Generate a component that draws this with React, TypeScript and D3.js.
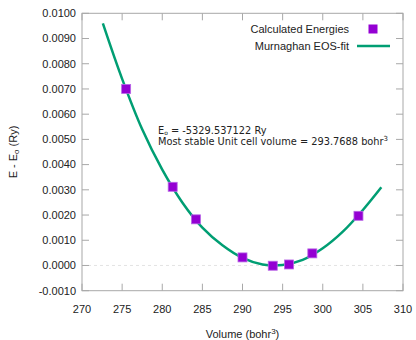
import React from 'react';
import * as d3 from 'd3';

// calculated energies, E - E0 in Ry
const volumes = [275.5, 281.3, 284.2, 290.0, 293.77, 295.8, 298.7, 304.45];
const energies = [0.0070, 0.00312, 0.00183, 0.00032, -0.00001, 0.00004, 0.00048, 0.00197];

// fitted curve
const fitVolumes = [272.6, 275, 277.5, 280, 282.5, 285, 287.5, 290, 292.5, 295, 297.5, 300, 302.5, 305, 307.3];
const fitEnergies = [0.0096, 0.0074, 0.0054, 0.0038, 0.0025, 0.0015, 0.0008, 0.0003, 0.00004, 0.00002, 0.00022, 0.00068, 0.00134, 0.0022, 0.0031];

const xTicks = [270, 275, 280, 285, 290, 295, 300, 305, 310];
const yTicks = [-0.001, 0, 0.001, 0.002, 0.003, 0.004, 0.005, 0.006, 0.007, 0.008, 0.009, 0.01];

const W = 416;
const H = 340;
const left = 82, right = 403, top = 13.3, bottom = 290.7;
const font = '"Liberation Sans", Arial, sans-serif';

export default function App() {
  const x = d3.scaleLinear().domain([270, 310]).range([left, right]);
  const y = d3.scaleLinear().domain([-0.001, 0.01]).range([bottom, top]);

  const line = d3
    .line<number>()
    .x((d, i) => x(fitVolumes[i]))
    .y((d) => y(d))
    .curve(d3.curveCatmullRom);

  const axisColor = '#a8a8a8';
  const tk = 7;

  return (
    <svg
      width={W}
      height={H}
      style={{ position: 'absolute', left: 0, top: 0, background: '#fff' }}
      fontFamily={font}
    >
      {/* zero line */}
      <line x1={left} x2={right} y1={y(0)} y2={y(0)} stroke="#dcdcdc" strokeWidth={0.8} strokeDasharray="3,3" />

      {/* ticks */}
      {xTicks.map((t) => (
        <g key={'x' + t}>
          <line x1={x(t)} x2={x(t)} y1={bottom} y2={bottom - tk} stroke={axisColor} />
          <line x1={x(t)} x2={x(t)} y1={top} y2={top + tk} stroke={axisColor} />
          <text x={x(t)} y={313} textAnchor="middle" fontSize={11} fill="#222">
            {t}
          </text>
        </g>
      ))}
      {yTicks.map((t) => (
        <g key={'y' + t}>
          <line x1={left} x2={left + tk} y1={y(t)} y2={y(t)} stroke={axisColor} />
          <line x1={right} x2={right - tk} y1={y(t)} y2={y(t)} stroke={axisColor} />
          <text x={76} y={y(t)} dy="0.35em" textAnchor="end" fontSize={11} fill="#222">
            {t.toFixed(4)}
          </text>
        </g>
      ))}

      {/* frame */}
      <rect x={left} y={top} width={right - left} height={bottom - top} fill="none" stroke={axisColor} strokeWidth={1} />

      {/* fit curve */}
      <path d={line(fitEnergies) || ''} fill="none" stroke="#009e73" strokeWidth={2.5} />

      {/* points */}
      {volumes.map((v, i) => (
        <rect
          key={i}
          x={x(v) - 4.5}
          y={y(energies[i]) - 4.5}
          width={9}
          height={9}
          fill="#9400d3"
          stroke="#b866e6"
          strokeWidth={0.8}
        />
      ))}

      {/* legend */}
      <text x={349} y={29} dy="0.35em" textAnchor="end" fontSize={11} fill="#222">
        Calculated Energies
      </text>
      <rect x={368.5} y={24.5} width={9} height={9} fill="#9400d3" />
      <text x={349} y={46} dy="0.35em" textAnchor="end" fontSize={11} fill="#222">
        Murnaghan EOS-fit
      </text>
      <line x1={357} x2={390} y1={46} y2={46} stroke="#009e73" strokeWidth={2.5} />

      {/* annotation */}
      <g fontFamily='"DejaVu Sans", sans-serif' fontSize={9.8} fill="#222">
        <text x={158} y={133.5}>
          E<tspan fontSize={6} dy={1}>o</tspan>
          <tspan dy={-1}> = -5329.537122 Ry</tspan>
        </text>
        <text x={158} y={145}>
          Most stable Unit cell volume = 293.7688 bohr
          <tspan fontSize={7} dy={-4}>3</tspan>
        </text>
      </g>

      {/* axis titles */}
      <text x={(left + right) / 2} y={338} textAnchor="middle" fontSize={11} fill="#222">
        Volume (bohr<tspan fontSize={8} dy={-4}>3</tspan>
        <tspan dy={4}>)</tspan>
      </text>
      <text
        transform={`translate(17, ${(top + bottom) / 2}) rotate(-90)`}
        textAnchor="middle"
        fontSize={11}
        fill="#222"
      >
        E - E<tspan fontSize={8} dy={2}>o</tspan>
        <tspan dy={-2}> (Ry)</tspan>
      </text>
    </svg>
  );
}
